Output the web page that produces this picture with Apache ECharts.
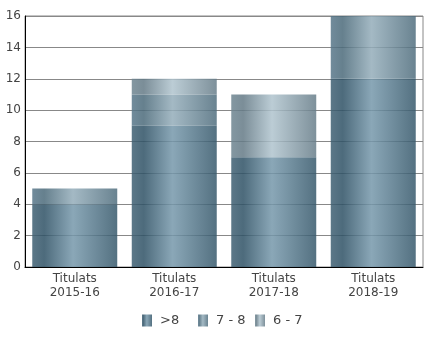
<!DOCTYPE html>
<html>
<head>
<meta charset="utf-8">
<script src="https://cdn.jsdelivr.net/npm/echarts@6/dist/echarts.min.js"></script>
<style>html,body{margin:0;padding:0;background:#fff}#c{width:430px;height:348px}</style>
</head>
<body>
<div id="c"></div>
<script>
const categories = ["Titulats\n2015-16", "Titulats\n2016-17", "Titulats\n2017-18", "Titulats\n2018-19"];
const seriesNames = [">8", "7 - 8", "6 - 7"];
const valsGt8 = [4, 9, 7, 12];
const vals7to8 = [1, 2, 0, 4];
const vals6to7 = [0, 1, 4, 0];
const yTicks = { min: 0, max: 16, interval: 2 };

function grad(edgeL, dark, light, edgeR) {
  return new echarts.graphic.LinearGradient(0, 0, 1, 0, [
    { offset: 0, color: edgeL },
    { offset: 0.14, color: dark },
    { offset: 0.48, color: light },
    { offset: 1, color: edgeR }
  ]);
}
const colors = [
  grad('#3f6073', '#2e5165', '#7698ab', '#36586b'),
  grad('#58778a', '#4b6a7a', '#94adba', '#4f6d7d'),
  grad('#6e8591', '#647a86', '#b0c4ce', '#677d89')
];
const dataSets = [valsGt8, vals7to8, vals6to7];
const legendLefts = [142, 198, 255];

const chart = echarts.init(document.getElementById('c'), null, { renderer: 'canvas' });
chart.setOption({
  animation: false,
  textStyle: { fontFamily: 'DejaVu Sans' },
  grid: { left: 25, right: 7, top: 16, bottom: 81, show: true, borderColor: '#888', borderWidth: 1, backgroundColor: 'transparent' },
  legend: seriesNames.map((n, i) => ({
    data: [n],
    top: 314,
    left: legendLefts[i],
    padding: 0,
    itemWidth: 10,
    itemHeight: 12,
    icon: 'rect',
    textStyle: { color: '#444', fontSize: 13, fontFamily: 'DejaVu Sans', padding: [0, 0, 0, 3] }
  })),
  xAxis: {
    type: 'category',
    data: categories,
    axisLine: { lineStyle: { color: '#000', width: 1 } },
    axisTick: { show: false },
    axisLabel: { color: '#444', fontSize: 12, margin: 5, lineHeight: 14, fontFamily: 'DejaVu Sans' }
  },
  yAxis: {
    type: 'value',
    min: yTicks.min, max: yTicks.max, interval: yTicks.interval,
    axisLine: { show: true, lineStyle: { color: '#000', width: 1 } },
    axisTick: { show: false },
    splitLine: { lineStyle: { color: '#888', width: 1 } },
    axisLabel: { color: '#444', fontSize: 12, margin: 4, fontFamily: 'DejaVu Sans' }
  },
  series: seriesNames.map((n, i) => ({
    name: n,
    type: 'bar',
    stack: 'total',
    barWidth: 85,
    data: dataSets[i],
    itemStyle: { color: colors[i], opacity: 0.85 }
  }))
});
</script>
</body>
</html>
